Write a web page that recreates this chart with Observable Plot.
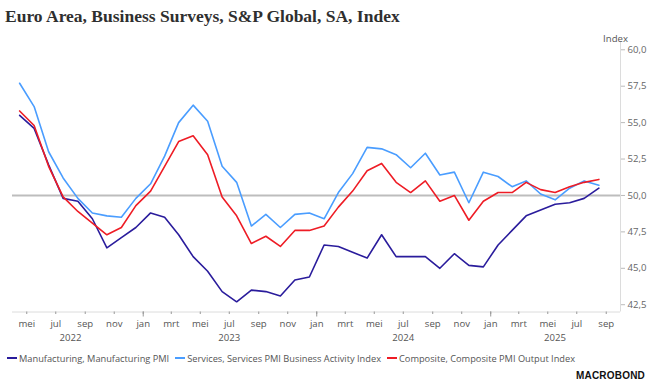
<!DOCTYPE html>
<html>
<head>
<meta charset="utf-8">
<script src="https://cdn.jsdelivr.net/npm/d3@7"></script>
<script src="https://cdn.jsdelivr.net/npm/@observablehq/plot@0.6"></script>
<style>
  body { margin: 0; background: #fff; }
  #wrap { width: 652px; height: 388px; position: relative; overflow: hidden; font-family: "Open Sans", sans-serif; }
  #title { height: 28px; box-sizing: border-box; padding: 4px 0 0 5px; font: bold 17.5px "Liberation Serif", serif; line-height: 24px; color: #2f2f2f; white-space: nowrap; }
  #chart svg { display: block; }
  #legend { height: 24px; display: flex; align-items: center; padding-left: 7px; font-size: 9.25px; color: #555; white-space: nowrap; }
  .item { display: flex; align-items: center; margin-right: 6px; }
  .sw { width: 10px; height: 2px; margin-right: 2px; }
  #logo { position: absolute; right: 7px; top: 370px; font: bold 10px "Liberation Sans", sans-serif; letter-spacing: 0.2px; color: #111; }
</style>
</head>
<body>
<div id="wrap">
  <div id="title"></div>
  <div id="chart"></div>
  <div id="legend"></div>
  <div id="logo">MACROBOND</div>
</div>
<script>
const titleText = "Euro Area, Business Surveys, S&P Global, SA, Index";

const months = [
  "2022-04","2022-05","2022-06","2022-07","2022-08","2022-09","2022-10","2022-11","2022-12",
  "2023-01","2023-02","2023-03","2023-04","2023-05","2023-06","2023-07","2023-08","2023-09","2023-10","2023-11","2023-12",
  "2024-01","2024-02","2024-03","2024-04","2024-05","2024-06","2024-07","2024-08","2024-09","2024-10","2024-11","2024-12",
  "2025-01","2025-02","2025-03","2025-04","2025-05","2025-06","2025-07","2025-08"
];

const manufacturing = [
  55.5, 54.6, 52.1, 49.8, 49.6, 48.4, 46.4, 47.1, 47.8,
  48.8, 48.5, 47.3, 45.8, 44.8, 43.4, 42.7, 43.5, 43.4, 43.1, 44.2, 44.4,
  46.6, 46.5, 46.1, 45.7, 47.3, 45.8, 45.8, 45.8, 45.0, 46.0, 45.2, 45.1,
  46.6, 47.6, 48.6, 49.0, 49.4, 49.5, 49.8, 50.5
];

const services = [
  57.7, 56.1, 53.0, 51.2, 49.8, 48.8, 48.6, 48.5, 49.8,
  50.8, 52.7, 55.0, 56.2, 55.1, 52.0, 50.9, 47.9, 48.7, 47.8, 48.7, 48.8,
  48.4, 50.2, 51.5, 53.3, 53.2, 52.8, 51.9, 52.9, 51.4, 51.6, 49.5, 51.6,
  51.3, 50.6, 51.0, 50.1, 49.7, 50.5, 51.0, 50.7
];

const composite = [
  55.8, 54.8, 52.0, 49.9, 48.9, 48.1, 47.3, 47.8, 49.3,
  50.3, 52.0, 53.7, 54.1, 52.8, 49.9, 48.6, 46.7, 47.2, 46.5, 47.6, 47.6,
  47.9, 49.2, 50.3, 51.7, 52.2, 50.9, 50.2, 51.0, 49.6, 50.0, 48.3, 49.6,
  50.2, 50.2, 50.9, 50.4, 50.2, 50.6, 50.9, 51.1
];

const seriesNames = [
  "Manufacturing, Manufacturing PMI",
  "Services, Services PMI Business Activity Index",
  "Composite, Composite PMI Output Index"
];
const seriesColors = ["#2a1c9c", "#4a9dff", "#ee1c25"];
const seriesValues = [manufacturing, services, composite];

const monthLabels = ["jan","feb","mrt","apr","mei","jun","jul","aug","sep","okt","nov","dec"];
const yTicks = [42.5, 45, 47.5, 50, 52.5, 55, 57.5, 60];
const yearLabels = ["2022", "2023", "2024", "2025"];
const yearLabelDates = ["2022-08-01", "2023-07-01", "2024-07-01", "2025-05-16"];
const yUnit = "Index";

const xStart = new Date(Date.UTC(2022, 3, 1));
const xEnd = new Date(Date.UTC(2025, 9, 1));

function midMonth(s) {
  const [y, m] = s.split("-").map(Number);
  return new Date((Date.UTC(y, m - 1, 1) + Date.UTC(y, m, 1)) / 2);
}
const dates = months.map(midMonth);
const tableFor = vals => vals.map((v, i) => ({date: dates[i], value: v}));

const oddTicks = d3.utcMonth.every(2).range(xStart, xEnd);
const janTicks = d3.utcYear.range(xStart, xEnd);
const yearTicks = yearLabelDates.map(s => new Date(s + "T00:00:00Z"));

document.getElementById("title").textContent = titleText;

const plot = Plot.plot({
  width: 652,
  height: 318,
  marginLeft: 12,
  marginRight: 32,
  marginTop: 14,
  marginBottom: 34.5,
  style: {fontFamily: "'Open Sans', sans-serif", fontSize: "9.6px", color: "#555", background: "transparent", overflow: "visible"},
  x: {type: "utc", domain: [xStart, xEnd]},
  y: {domain: [42, 60.5]},
  marks: [
    Plot.ruleY([42], {stroke: "#dcdcdc"}),
    Plot.ruleX([xEnd], {stroke: "#dcdcdc"}),
    Plot.ruleY([50], {stroke: "#bdbdbd", strokeWidth: 2}),
    Plot.axisY({anchor: "right", ticks: yTicks, tickFormat: d => d.toFixed(1).replace(".", ","), tickSize: 4, tickPadding: 3, label: null, stroke: "#bbb", fill: "#666"}),
    Plot.axisX({ticks: oddTicks, tickFormat: d => monthLabels[d.getUTCMonth()], tickSize: 2.5, tickPadding: 5.5, label: null, stroke: "#999", fill: "#555"}),
    Plot.axisX({ticks: janTicks, tickFormat: () => "", tickSize: 5, label: null, stroke: "#999"}),
    Plot.axisX({ticks: yearTicks, tickFormat: d => yearLabels[yearTicks.findIndex(t => +t === +d)], tickSize: 0, tickPadding: 22, label: null, fill: "#555"}),
    Plot.text([yUnit], {frameAnchor: "top-right", textAnchor: "middle", dx: -5, dy: -7, fill: "#555555"}),
    ...seriesValues.map((vals, i) => Plot.line(tableFor(vals), {x: "date", y: "value", stroke: seriesColors[i], strokeWidth: 1.6}))
  ]
});
document.getElementById("chart").appendChild(plot);

const legend = document.getElementById("legend");
seriesNames.forEach((name, i) => {
  const item = document.createElement("div");
  item.className = "item";
  const sw = document.createElement("span");
  sw.className = "sw";
  sw.style.background = seriesColors[i];
  const t = document.createElement("span");
  t.textContent = name;
  item.appendChild(sw);
  item.appendChild(t);
  legend.appendChild(item);
});
</script>
</body>
</html>
